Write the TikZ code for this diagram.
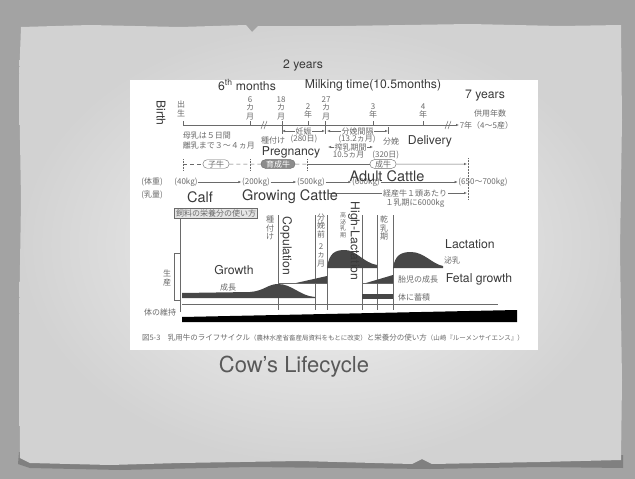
\documentclass[tikz,border=0pt]{standalone}
\usepackage{fontspec}
\setmainfont{TeX Gyre Heros}
\newfontfamily\jpfont{Noto Sans CJK JP}
\usetikzlibrary{arrows.meta,shapes.misc}
\definecolor{frame}{HTML}{A3A3A3}
\definecolor{paper}{HTML}{F3F3F3}
\definecolor{edge}{HTML}{D2D2D2}
\definecolor{ink}{HTML}{3A3A3A}
\definecolor{scan}{HTML}{6A6A6A}
\begin{document}
\begin{tikzpicture}[x=1pt,y=-1pt,>={Latex[length=3pt,width=2.4pt]},
  en/.style={text=ink,font=\fontsize{12.2}{13}\selectfont,inner sep=0pt},
  enbig/.style={en,font=\fontsize{14.5}{15}\selectfont},
  jp/.style={text=scan,font=\jpfont\fontsize{8}{8.5}\selectfont,inner sep=0.6pt},
  jpv/.style={jp,align=center},
  scanline/.style={draw=scan,line width=0.5pt},
  stub/.style={scanline,dash pattern=on 4pt off 3pt},
  oval/.style={jp,draw=scan,rounded rectangle,minimum width=26pt,minimum height=8pt,inner xsep=3pt},
  hump/.style={fill=black!72,draw=none}]
\useasboundingbox (0,0) rectangle (635,479);
\fill[frame] (0,0) rectangle (635,479);
\fill[black!50] (19,452) -- (120,458) -- (250,456) -- (410,458) -- (420,453) -- (430,458) -- (540,457) -- (623,455) -- (623,468) -- (540,467) -- (430,469) -- (250,467) -- (120,470) -- (30,468) -- (18,464) -- cycle;
\shade[inner color=paper,outer color=edge] (21,27) -- (90,25) -- (180,27) -- (246,25) -- (252,32) -- (258,26) -- (340,26) -- (470,24) -- (560,26) -- (621,25) -- (622,120) -- (620,250) -- (622,380) -- (621,460) -- (540,462) -- (432,464) -- (422,459) -- (412,464) -- (300,461) -- (180,463) -- (110,465) -- (30,463) -- (20,458) -- (19,330) -- (21,200) -- (19,80) -- cycle;
\fill[white] (130,80) rectangle (538,350);

\node[en] (twoyears) at (303,66) {2 years};
\node[en] (sixmonths) at (247,85) {6\textsuperscript{th} months};
\node[en] (milking) at (373,85) {Milking time(10.5months)};
\node[en] (sevenyears) at (485,96) {7 years};
\node[en,rotate=-90] (birth) at (161,113) {Birth};

\node[jpv] (birthjp) at (181,109) {出\\生};
\node[jpv] (m6jp) at (250,108) {6\\カ\\月};
\node[jpv] (m18jp) at (281,108) {18\\カ\\月};
\node[jpv] (y2jp) at (308,111) {2\\年};
\node[jpv] (m27jp) at (326,108) {27\\カ\\月};
\node[jpv] (y3jp) at (373,111) {3\\年};
\node[jpv] (y4jp) at (423,111) {4\\年};
\node[jp] (usejp) at (490,113) {供用年数};
\node[jp,anchor=west] (useyears) at (459,125) {7年（4～5産）};
\coordinate (t0) at (183,125);
\draw[scanline,->] (t0) -- (useyears.west);
\foreach \x in {183,250,282,308,325,373,423}
  \draw[scanline] (\x,121) -- (\x,125);
\draw[scanline] (261,129) -- (264,121) (264,129) -- (267,121);
\draw[scanline] (445,129) -- (448,121) (448,129) -- (451,121);

\coordinate (preg0) at (282,131);
\coordinate (preg1) at (325,131);
\coordinate (calv0) at (327,131);
\coordinate (calv1) at (388,131);
\draw[scanline] (282,125) -- (282,134) (325,125) -- (325,134) (388,127) -- (388,134);
\draw[scanline,<->] (preg0) -- (preg1) node[midway,jp,fill=white] (pregjp) {妊娠};
\draw[scanline,<->] (calv0) -- (calv1) node[midway,jp,fill=white] (calvjp) {分娩間隔};
\node[jp] (matejp) at (273,140) {種付け};
\node[jp] (days280) at (304,139) {(280日)};
\node[jp] (months132) at (357,139) {(13.2ヵ月)};
\node[jp] (birthjp2) at (391,141) {分娩};
\coordinate (milk0) at (328,147);
\coordinate (milk1) at (373,147);
\draw[scanline,<->] (milk0) -- (milk1) node[midway,jp,fill=white] (milkjp) {搾乳期間};
\node[jp] (days320) at (366,155) {10.5ヵ月　(320日)};
\node[jp,anchor=west] (mothermilk) at (182,135) {母乳は５日間};
\node[jp,anchor=west] (weaning) at (182,145) {離乳まで３～４ヵ月};
\node[en] (pregnancy) at (291,152) {Pregnancy};
\node[en] (delivery) at (430,141) {Delivery};

\node[oval] (calfov) at (216,164) {子牛};
\node[oval,fill=black!45,text=white] (growov) at (278,164) {育成牛};
\node[oval] (adultov) at (383,164) {成牛};
\coordinate (o0) at (183,164);
\coordinate (o1) at (250,164);
\coordinate (o2) at (307,164);
\coordinate (oend) at (467,164);
\draw[stub] (o0) -- (calfov);
\draw[stub] (calfov) -- (o1) -- (growov);
\draw[stub] (growov) -- (o2);
\draw[scanline] (o2) -- (adultov);
\draw[scanline,->] (adultov) -- (oend);
\draw[scanline,densely dotted] (183,159) -- (183,170) (250,159) -- (250,170) (307,159) -- (307,170) (468,158) -- (468,200);

\node[jp] (weightjp) at (152,182) {(体重)};
\node[jp] (w40) at (186,182) {(40kg)};
\node[jp] (w200) at (256,182) {(200kg)};
\node[jp] (w500) at (311,182) {(500kg)};
\node[jp] (w600) at (366,182) {(600kg)};
\node[jp] (w700) at (483,182) {(650～700kg)};
\draw[scanline,->] (w40) -- (w200);
\draw[scanline,->] (w200) -- (w500);
\draw[scanline,->] (w500) -- (w600);
\draw[scanline,->] (w600) -- (w700);
\node[jp] (yieldjp) at (152,195) {(乳量)};
\coordinate (y0) at (328,193);
\coordinate (y1) at (467,193);
\node[jp,fill=white] (percow) at (415,193) {経産牛１頭あたり};
\node[jp] (perlact) at (415,203) {１乳期に6000kg};
\draw[scanline] (y0) -- (percow);
\draw[scanline,->] (percow) -- (y1);
\node[enbig] (adult) at (387,176) {Adult Cattle};
\node[enbig] (calf) at (200,197) {Calf};
\node[enbig] (growing) at (290,197) {Growing Cattle};

\node[jp,draw=scan,fill=black!10,inner sep=1.5pt] (feedbox) at (216,213) {飼料の栄養分の使い方};
\coordinate (ax0) at (180,219);
\coordinate (ax1) at (180,312);
\draw[scanline] (ax0) -- (ax1);
\draw[scanline] (180,253) -- (174,253) -- (174,300) -- (180,300);
\node[jpv] (prodjp) at (167,278) {生\\産};
\node[jp] (keepjp) at (160,312) {体の維持};
\foreach \x in {278,315,327,362,377,393}
  \draw[scanline] (\x,215) -- (\x,310);
\draw[scanline] (182,304) -- (498,304);
\fill[black] (182,322) -- (182,317) -- (517,310) -- (517,322) -- cycle;
\fill[hump] (182,293) -- (250,292) .. controls (264,291) and (268,284) .. (278,284) .. controls (292,284) and (300,296) .. (315,297) -- (315,298) -- (182,298) -- cycle;
\fill[hump] (327,268) .. controls (329,253) and (335,250) .. (345,250) .. controls (356,250) and (364,263) .. (377,265) -- (377,268) -- cycle;
\fill[hump] (393,268) .. controls (395,255) and (401,252) .. (411,252) .. controls (424,252) and (432,264) .. (443,266) -- (443,268) -- cycle;
\draw[scanline] (278,283) -- (327,283) (362,283) -- (393,283);
\fill[hump] (296,283) -- (327,276) -- (327,283) -- cycle;
\fill[hump] (366,283) -- (393,275) -- (393,283) -- cycle;
\fill[hump] (362,294) rectangle (393,299);

\node[jpv] (matev) at (270,228) {種\\付\\け};
\node[jpv] (precalv) at (321,226) {分\\娩\\前};
\node[jpv] (twomonths) at (321,255) {2\\ヵ\\月};
\node[jpv,font=\jpfont\fontsize{6}{6.5}\selectfont] (peakjp) at (343,225) {高\\泌\\乳\\期};
\node[jpv] (dryjp) at (384,228) {乾\\乳\\期};
\node[jp] (growjp) at (228,287) {成長};
\node[jp] (lactjp) at (452,260) {泌乳};
\node[jp] (fetaljp) at (418,279) {胎児の成長};
\node[jp] (storejp) at (414,297) {体に蓄積};
\node[en,rotate=-90] (copulation) at (286,246) {Copulation};
\node[en,rotate=-90] (highlact) at (354,241) {High-Lactation};
\node[en] (growth) at (234,270) {Growth};
\node[en] (lactation) at (470,244) {Lactation};
\node[en] (fetal) at (479,279) {Fetal growth};

\node[jp,font=\jpfont\fontsize{7.5}{8}\selectfont] (caption) at (333,338) {図5-3　乳用牛のライフサイクル{\fontsize{6.5}{7}\selectfont（農林水産省畜産局資料をもとに改変）}と栄養分の使い方{\fontsize{6.5}{7}\selectfont（山崎『ルーメンサイエンス』）}};
\node[text=black!65,font=\fontsize{22}{24}\selectfont,inner sep=0pt] (title) at (294,367) {Cow’s Lifecycle};
\end{tikzpicture}
\end{document}
